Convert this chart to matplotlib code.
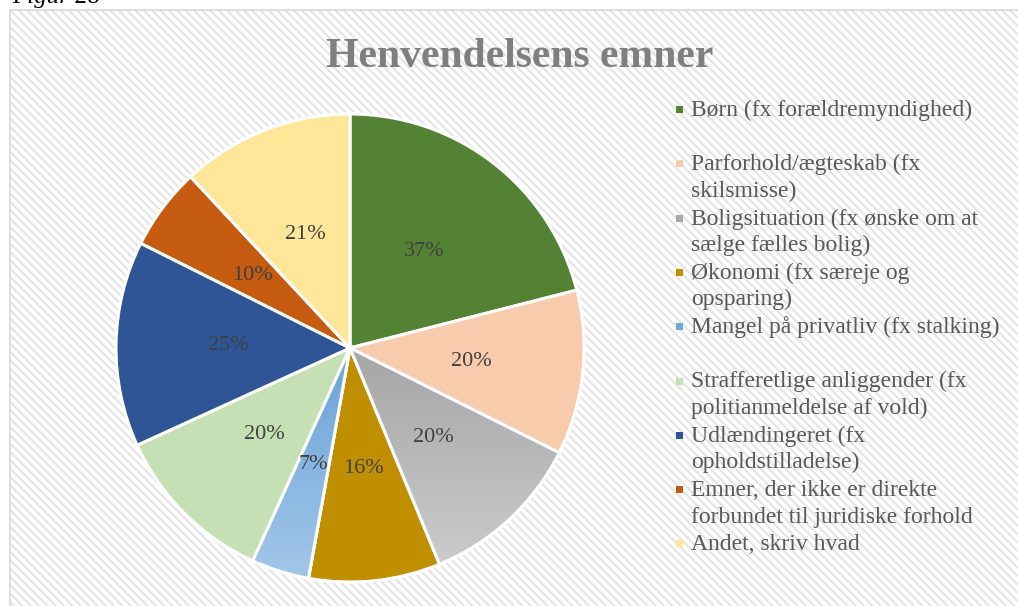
import matplotlib
matplotlib.use('Agg')
import matplotlib.pyplot as plt
import matplotlib.patches as mpatches
import numpy as np
from matplotlib.colors import LinearSegmentedColormap

# Chart data
CATEGORIES = ['Børn (fx forældremyndighed)',
              'Parforhold/ægteskab (fx\nskilsmisse)',
              'Boligsituation (fx ønske om at\nsælge fælles bolig)',
              'Økonomi (fx særeje og\nopsparing)',
              'Mangel på privatliv (fx stalking)',
              'Strafferetlige anliggender (fx\npolitianmeldelse af vold)',
              'Udlændingeret (fx\nopholdstilladelse)',
              'Emner, der ikke er direkte\nforbundet til juridiske forhold',
              'Andet, skriv hvad']
PERCENTS = [37, 20, 20, 16, 7, 20, 25, 10, 21]
COLORS = ['#548235', '#F8CBAD', '#A9A9A9', '#BF8F00', '#6FA8DC',
          '#C5E0B4', '#2F5597', '#C55A11', '#FFE699']
# slices drawn with a top-to-bottom gradient: index -> (top colour, bottom colour)
GRADIENTS = {2: ('#A5A5A5', '#CBCBCB'), 4: ('#6AA3D8', '#A2C6E8')}

TITLE = 'Henvendelsens emner'
SERIF = ['Liberation Serif', 'DejaVu Serif']

W, H = 1018, 606
plt.rcParams['hatch.linewidth'] = 1.4
fig = plt.figure(figsize=(W / 100, H / 100), dpi=100)
fig.patch.set_facecolor('white')

# Hatched chart area with a thin border (kept behind the pie axes)
area = mpatches.Rectangle((10 / W, -0.05), 1.1, (H - 10) / H + 0.05,
                          transform=fig.transFigure, facecolor='white',
                          edgecolor='#E3E3E3', linewidth=0, hatch='\\\\\\\\',
                          zorder=-2)
fig.add_artist(area)
border = mpatches.Rectangle((10 / W, -0.05), 1.1, (H - 10) / H + 0.05,
                            transform=fig.transFigure, facecolor='none',
                            edgecolor='#D9D9D9', linewidth=1.2, zorder=-1)
fig.add_artist(border)

# Caption above the chart, cut by the page edge as in the source page
fig.text(12 / W, 1 - 3 / H, 'Figur 28', family=SERIF, style='italic',
         fontsize=18, color='black', ha='left', va='baseline')

# Title
fig.text(520 / W, 1 - 67 / H, TITLE, family=SERIF, fontweight='bold',
         fontsize=30, color='#7F7F7F', ha='center', va='baseline')

# Pie
cx, cy, r = 350, 348, 234
lim = 1.05
ax = fig.add_axes([(cx - r * lim) / W, (H - cy - r * lim) / H,
                   2 * r * lim / W, 2 * r * lim / H])
ax.patch.set_alpha(0)
labels_iter = iter(PERCENTS)
wedges, _, autotexts = ax.pie(PERCENTS, colors=COLORS, startangle=90,
                              counterclock=False,
                              autopct=lambda p: '%d%%' % next(labels_iter),
                              pctdistance=0.52,
                              wedgeprops=dict(edgecolor='white', linewidth=2.2))
for t in autotexts:
    t.set_fontfamily(SERIF)
    t.set_fontsize(16)
    t.set_color('#404040')
    t.set_zorder(5)

for i, (c_top, c_bot) in GRADIENTS.items():
    w = wedges[i]
    ext = w.get_path().get_extents()
    cmap = LinearSegmentedColormap.from_list('g%d' % i, [c_top, c_bot])
    grad = np.linspace(0, 1, 256).reshape(-1, 1)
    im = ax.imshow(grad, cmap=cmap, aspect='auto', origin='upper',
                   extent=(ext.x0, ext.x1, ext.y0, ext.y1), zorder=2)
    im.set_clip_path(w)
    ax.add_patch(mpatches.Wedge(w.center, w.r, w.theta1, w.theta2,
                                facecolor='none', edgecolor='white',
                                linewidth=2.2, zorder=3))

ax.set_xlim(-lim, lim)
ax.set_ylim(-lim, lim)
ax.axis('off')

# Legend, drawn by hand so the entry slots match the reference
leg_x, leg_y0, slot, line_h = 691, 116, 54.3, 26.5
for k, (name, col) in enumerate(zip(CATEGORIES, COLORS)):
    base = leg_y0 + k * slot
    fig.add_artist(mpatches.Rectangle((676 / W, 1 - (base - 3) / H),
                                      7 / W, 7 / H, transform=fig.transFigure,
                                      facecolor=col, edgecolor='none'))
    for j, line in enumerate(name.split('\n')):
        fig.text(leg_x / W, 1 - (base + j * line_h) / H, line, family=SERIF,
                 fontsize=17, color='#595959', ha='left', va='baseline')

fig.savefig('out.png', dpi=100)
